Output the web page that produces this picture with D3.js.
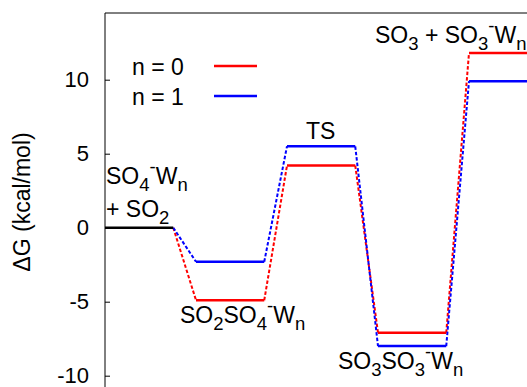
<!DOCTYPE html>
<html>
<head>
<meta charset="utf-8">
<script src="https://cdn.jsdelivr.net/npm/d3@7"></script>
<style>
  body { margin: 0; background: #fff; }
  svg text { font-family: "Liberation Sans", Arial, sans-serif; fill: #000; }
</style>
</head>
<body>
<div id="chart"></div>
<script>
// reaction steps (x index of each level)
var steps = [0, 1, 2, 3, 4];
var reactantLevel = 0;
// free energies (kcal/mol) for each step
var n0Values = [0, -4.9, 4.2, -7.1, 11.8];
var n1Values = [0, -2.3, 5.5, -8.0, 9.9];
var seriesNames = ["n = 0", "n = 1"];
var seriesColors = ["#ff0000", "#0000ff"];
var yTicks = [-10, -5, 0, 5, 10];

var W = 527, H = 387;
var levelWidth = 0.75;

var svg = d3.select("#chart").append("svg")
  .attr("width", W)
  .attr("height", H);

var x = d3.scaleLinear().domain([0, 1]).range([105, 196]);
var y = d3.scaleLinear().domain([-10, 10]).range([375.7, 79.7]);

// frame: left axis + top border (right/bottom fall outside the picture)
svg.append("line")
  .attr("x1", x(0)).attr("x2", x(0))
  .attr("y1", 13).attr("y2", H + 5)
  .attr("stroke", "#000").attr("stroke-width", 1);
svg.append("line")
  .attr("x1", x(0)).attr("x2", W + 5)
  .attr("y1", 13).attr("y2", 13)
  .attr("stroke", "#000").attr("stroke-width", 1);

var yAxis = d3.axisLeft(y)
  .tickValues(yTicks)
  .tickSize(-5)
  .tickPadding(16)
  .tickFormat(function(d) { return String(d); });

var gy = svg.append("g")
  .attr("transform", "translate(" + x(0) + ",0)")
  .call(yAxis);
gy.select(".domain").remove();
gy.selectAll("text")
  .style("font-size", "22px")
  .style("font-family", "Liberation Sans, Arial, sans-serif");

svg.append("text")
  .attr("transform", "translate(30,202) rotate(-90)")
  .attr("text-anchor", "middle")
  .style("font-size", "23px")
  .text("ΔG (kcal/mol)");

var series = [n0Values, n1Values];

// dashed connectors
series.forEach(function(vals, s) {
  for (var i = 0; i < steps.length - 1; i++) {
    svg.append("line")
      .attr("x1", x(steps[i] + levelWidth))
      .attr("y1", y(vals[i]))
      .attr("x2", x(steps[i + 1]))
      .attr("y2", y(vals[i + 1]))
      .attr("stroke", seriesColors[s])
      .attr("stroke-width", 2)
      .attr("stroke-dasharray", "3.5,2");
  }
});

// energy levels
series.forEach(function(vals, s) {
  svg.selectAll(".lvl" + s)
    .data(steps.slice(1))
    .enter().append("line")
    .attr("x1", function(d) { return x(d); })
    .attr("x2", function(d) { return x(d + levelWidth); })
    .attr("y1", function(d) { return y(vals[d]); })
    .attr("y2", function(d) { return y(vals[d]); })
    .attr("stroke", seriesColors[s])
    .attr("stroke-width", 2.5);
});

svg.append("line")
  .attr("x1", x(0)).attr("x2", x(levelWidth))
  .attr("y1", y(reactantLevel)).attr("y2", y(reactantLevel))
  .attr("stroke", "#000").attr("stroke-width", 2.5);

// legend
seriesNames.forEach(function(name, i) {
  var ly = 66 + i * 30;
  svg.append("text")
    .attr("x", 132).attr("y", ly + 9)
    .style("font-size", "23px")
    .text(name);
  svg.append("line")
    .attr("x1", 214).attr("x2", 257)
    .attr("y1", ly).attr("y2", ly)
    .attr("stroke", seriesColors[i])
    .attr("stroke-width", 2.5);
});

// species labels: parts are [text, kind] with kind "", "sub", "sup"
function label(px, py, parts) {
  var t = svg.append("text")
    .attr("x", px).attr("y", py)
    .style("font-size", "23px");
  var shift = 0;
  parts.forEach(function(p) {
    var target = p[1] === "sub" ? 7 : p[1] === "sup" ? -11 : 0;
    t.append("tspan")
      .attr("dy", target - shift)
      .style("font-size", p[1] ? "18.5px" : "23px")
      .text(p[0]);
    shift = target;
  });
}

label(106, 184, [["SO", ""], ["4", "sub"], ["-", "sup"], ["W", ""], ["n", "sub"]]);
label(106, 217, [["+ SO", ""], ["2", "sub"]]);
label(306, 139, [["TS", ""]]);
label(180, 323, [["SO", ""], ["2", "sub"], ["SO", ""], ["4", "sub"], ["-", "sup"], ["W", ""], ["n", "sub"]]);
label(338, 369, [["SO", ""], ["3", "sub"], ["SO", ""], ["3", "sub"], ["-", "sup"], ["W", ""], ["n", "sub"]]);
label(375, 43, [["SO", ""], ["3", "sub"], [" + SO", ""], ["3", "sub"], ["-", "sup"], ["W", ""], ["n", "sub"]]);
</script>
</body>
</html>
